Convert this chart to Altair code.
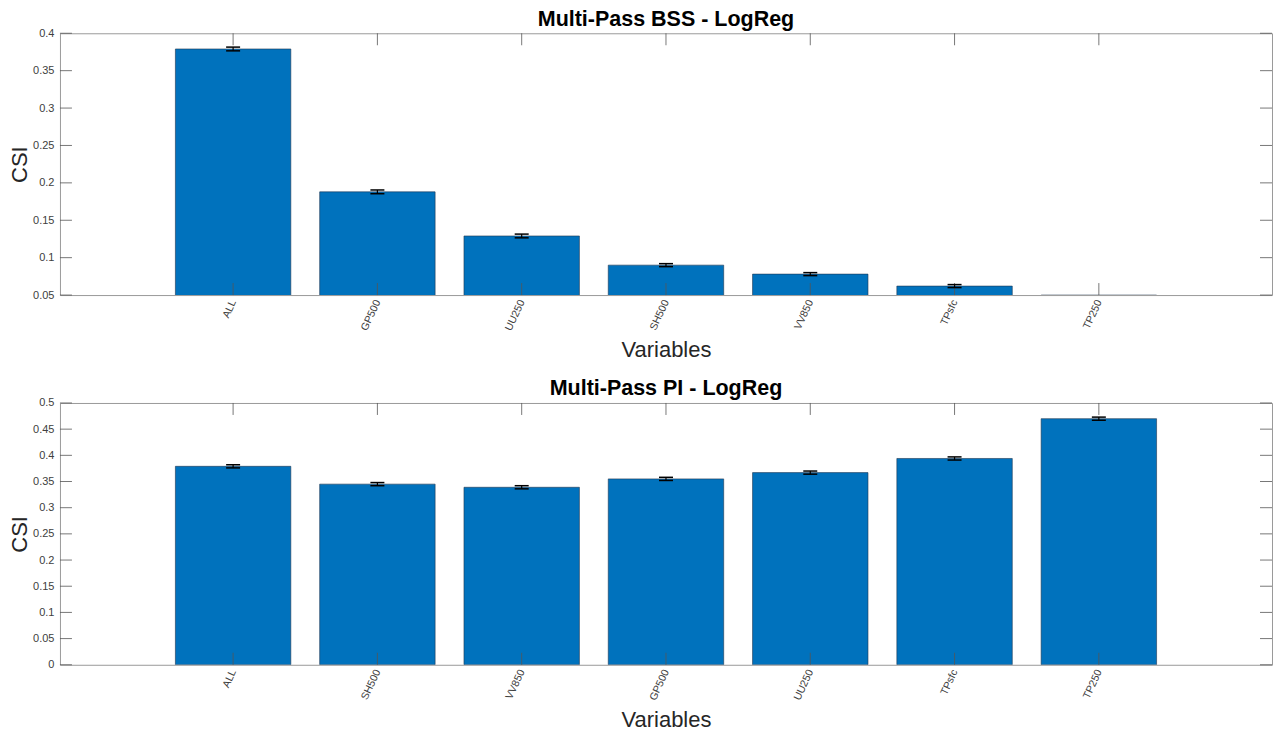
import json
import altair as alt
import pandas as pd

# ---- data ----
idx = [1, 2, 3, 4, 5, 6, 7]
names_top = ["ALL", "GP500", "UU250", "SH500", "VV850", "TPsfc", "TP250"]
vals_top = [0.379, 0.188, 0.129, 0.090, 0.078, 0.062, 0.050]
errs_top = [0.0025, 0.0025, 0.0025, 0.002, 0.002, 0.002, 0.0]
yticks_top = [0.05, 0.1, 0.15, 0.2, 0.25, 0.3, 0.35, 0.4]

names_bot = ["ALL", "SH500", "VV850", "GP500", "UU250", "TPsfc", "TP250"]
vals_bot = [0.379, 0.345, 0.339, 0.355, 0.367, 0.394, 0.470]
errs_bot = [0.003, 0.003, 0.003, 0.003, 0.003, 0.003, 0.003]
yticks_bot = [0, 0.05, 0.1, 0.15, 0.2, 0.25, 0.3, 0.35, 0.4, 0.45, 0.5]

x_domain = [-0.2, 8.2]
W, H = 1213, 262
FONT = "Liberation Sans"
BAR = "#0072BD"
TICKC = "#555555"
TL = 12  # inner tick length


def panel(title, names, vals, errs, yticks, ydomain):
    df = pd.DataFrame({"i": idx, "name": names, "v": vals, "e": errs})
    label_expr = json.dumps(names) + "[datum.value - 1]"
    xscale = alt.Scale(domain=x_domain, nice=False, zero=False)
    yscale = alt.Scale(domain=ydomain, nice=False, zero=False)
    xaxis = alt.Axis(
        values=idx, labelExpr=label_expr, title="Variables",
        labelAngle=-65, labelFontSize=10.5, labelColor="#404040", labelPadding=5,
        titleFontSize=22, titleFontWeight="normal", titleColor="#262626", titlePadding=8,
        ticks=False, domain=False, grid=False)
    yaxis = alt.Axis(
        values=yticks, format="~g", title="CSI",
        labelFontSize=11, labelColor="#404040", labelPadding=6,
        titleFontSize=22, titleFontWeight="normal", titleColor="#262626", titlePadding=1,
        ticks=False, domain=False, grid=False)

    def X(f):
        return alt.X(f, scale=xscale, axis=xaxis)

    def Y(f):
        return alt.Y(f, scale=yscale, axis=yaxis)

    base = alt.Chart(df).transform_calculate(
        x0="datum.i - 0.4", x1="datum.i + 0.4",
        lo="datum.v - datum.e", hi="datum.v + datum.e",
    )

    bars = base.mark_bar(color=BAR, stroke="#1f3550", strokeWidth=0.6, clip=True).encode(
        x=X("x0:Q"), x2="x1:Q", y=Y("v:Q"), y2=alt.datum(0),
    )

    ytk = pd.DataFrame({"t": yticks})
    xtk = pd.DataFrame({"i": idx})
    tick_style = dict(color=TICKC, strokeWidth=0.8)
    left = alt.Chart(ytk).mark_rule(**tick_style).encode(
        y=Y("t:Q"), x=alt.value(0), x2=alt.value(TL))
    right = alt.Chart(ytk).mark_rule(**tick_style).encode(
        y=Y("t:Q"), x=alt.value(W - TL), x2=alt.value(W))
    bottom = alt.Chart(xtk).mark_rule(**tick_style).encode(
        x=X("i:Q"), y=alt.value(H - TL), y2=alt.value(H))
    top = alt.Chart(xtk).mark_rule(**tick_style).encode(
        x=X("i:Q"), y=alt.value(0), y2=alt.value(TL))

    eb = base.transform_filter("datum.e > 0")
    err_rule = eb.mark_rule(color="black", strokeWidth=1.2, clip=True).encode(
        x=X("i:Q"), y=Y("lo:Q"), y2="hi:Q")
    cap_lo = eb.mark_tick(color="black", opacity=1, orient="horizontal", size=14, thickness=1.5).encode(
        x=X("i:Q"), y=Y("lo:Q"))
    cap_hi = eb.mark_tick(color="black", opacity=1, orient="horizontal", size=14, thickness=1.5).encode(
        x=X("i:Q"), y=Y("hi:Q"))

    return alt.layer(bars, left, right, bottom, top, err_rule, cap_lo, cap_hi).properties(
        width=W, height=H,
        title=alt.TitleParams(title, fontSize=21.5, fontWeight="bold", font=FONT,
                              color="black", offset=-3, anchor="middle"),
    )


top_panel = panel("Multi-Pass BSS - LogReg", names_top, vals_top, errs_top, yticks_top, [0.05, 0.4])
bot_panel = panel("Multi-Pass PI - LogReg", names_bot, vals_bot, errs_bot, yticks_bot, [0, 0.5])

chart = alt.vconcat(top_panel, bot_panel, spacing=16).properties(
    padding={"left": 0, "top": 0, "right": 0, "bottom": 0}
).configure_view(stroke="#9a9a9a", strokeWidth=1).configure_axis(
    labelFont=FONT, titleFont=FONT
).configure_title(font=FONT)

chart.save("out.html", embed_options={"renderer": "svg", "actions": False})
